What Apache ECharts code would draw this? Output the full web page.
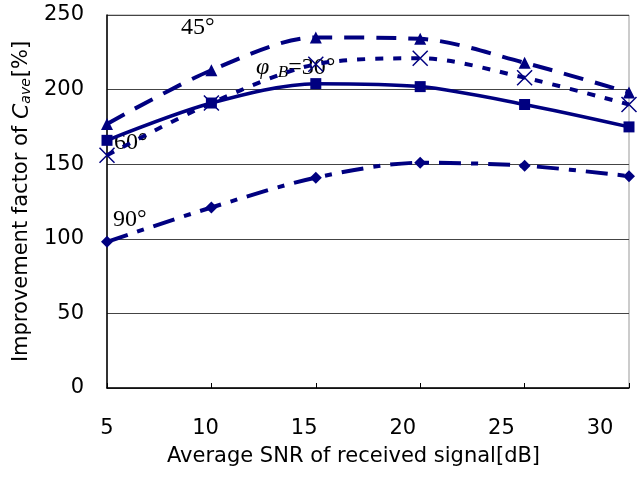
<!DOCTYPE html>
<html>
<head>
<meta charset="utf-8">
<script src="https://cdn.jsdelivr.net/npm/echarts@6/dist/echarts.min.js"></script>
</head>
<body style="margin:0;background:#fff">
<div id="main" style="width:642px;height:484px;"></div>
<script>
  // SNR 値 (dB)
  var snr = [5, 10, 15, 20, 25, 30];
  // φB ごとの改善率 (%)
  var deg45 = [177, 213, 235, 234, 218, 198];
  var deg30 = [166, 191, 204, 202, 190, 175];
  var deg60 = [156, 191, 217, 221, 208, 190];
  var deg90 = [98, 121, 141, 151, 149, 142];

  var navy = '#000080';
  var gothic = '"DejaVu Sans", sans-serif';
  var serif = '"Liberation Serif", "Times New Roman", serif';

  function pts(ys) {
    return snr.map(function (x, i) { return [x, ys[i]]; });
  }

  var myChart = echarts.init(document.getElementById('main'));
  var option = {
    backgroundColor: '#fff',
    animation: false,
    grid: [
      { left: 107, right: 13, top: 15, bottom: 96, show: true, borderColor: '#999', borderWidth: 1 },
      // ラベル用 (目盛り文字の位置が少しずれている)
      { left: 107, right: 42, top: 15, bottom: 96 }
    ],
    xAxis: [
      {
        type: 'value', gridIndex: 0, min: 5, max: 30, interval: 5,
        axisLine: { lineStyle: { color: '#000', width: 1.5 } },
        axisTick: { inside: true, length: 5, lineStyle: { color: '#000' } },
        axisLabel: { show: false },
        splitLine: { show: false }
      },
      {
        type: 'value', gridIndex: 1, min: 5, max: 30, interval: 5,
        axisLine: { show: false }, axisTick: { show: false }, splitLine: { show: false },
        axisLabel: { margin: 30, color: '#000', fontSize: 21, fontFamily: gothic },
        name: 'Average SNR of received signal[dB]',
        nameLocation: 'middle', nameGap: 58,
        nameTextStyle: { color: '#000', fontSize: 21, fontFamily: gothic }
      }
    ],
    yAxis: [
      {
        type: 'value', gridIndex: 0, min: 0, max: 250, interval: 50,
        axisLine: { show: true, lineStyle: { color: '#000', width: 1.5 } },
        axisTick: { show: false },
        axisLabel: { margin: 23, color: '#000', fontSize: 21, fontFamily: gothic },
        splitLine: { show: true, lineStyle: { color: '#444', width: 1 } },
        name: '{t|Improvement factor of }{i|C}{s|ave}{t|[%]}',
        nameLocation: 'middle', nameGap: 72,
        nameTextStyle: {
          rich: {
            t: { color: '#000', fontSize: 21, fontFamily: gothic },
            i: { color: '#000', fontSize: 22, fontFamily: gothic, fontStyle: 'italic' },
            s: { color: '#000', fontSize: 14, fontFamily: gothic, fontStyle: 'italic', verticalAlign: 'bottom', padding: [6, 1, 0, 0] }
          }
        }
      },
      { type: 'value', gridIndex: 1, min: 0, max: 250, show: false }
    ],
    series: [
      {
        name: '45', type: 'line', smooth: 0.3, data: pts(deg45),
        symbol: 'triangle', symbolSize: 12,
        lineStyle: { color: navy, width: 4, type: [20, 12] },
        itemStyle: { color: navy }
      },
      {
        name: '30', type: 'line', smooth: 0.3, data: pts(deg30),
        symbol: 'rect', symbolSize: 11,
        lineStyle: { color: navy, width: 3.5, type: 'solid' },
        itemStyle: { color: navy }
      },
      {
        name: '60', type: 'line', smooth: 0.3, data: pts(deg60),
        symbol: 'path://M0,0L10,10M10,0L0,10', symbolSize: 15,
        lineStyle: { color: navy, width: 4, type: [8, 10] },
        itemStyle: { color: 'none', borderColor: navy, borderWidth: 1.5 }
      },
      {
        name: '90', type: 'line', smooth: 0.3, data: pts(deg90),
        symbol: 'diamond', symbolSize: 12,
        lineStyle: { color: navy, width: 4, type: [22, 10, 7, 10] },
        itemStyle: { color: navy }
      }
    ],
    graphic: [
      { type: 'text', left: 181, top: 16, style: { text: '45°', font: '24px ' + serif, fill: '#000' } },
      { type: 'text', left: 114, top: 131, style: { text: '60°', font: '24px ' + serif, fill: '#000' } },
      { type: 'text', left: 113, top: 208, style: { text: '90°', font: '24px ' + serif, fill: '#000' } },
      {
        type: 'text', left: 256, top: 56,
        style: {
          text: '{p|φ}{b|  B}{t|=30°}',
          rich: {
            p: { fontSize: 24, fontFamily: serif, fontStyle: 'italic', fill: '#000' },
            b: { fontSize: 17, fontFamily: serif, fontStyle: 'italic', fill: '#000', verticalAlign: 'bottom', padding: [10, 0, 0, 0] },
            t: { fontSize: 24, fontFamily: serif, fill: '#000' }
          }
        }
      }
    ]
  };
  myChart.setOption(option);
</script>
</body>
</html>
